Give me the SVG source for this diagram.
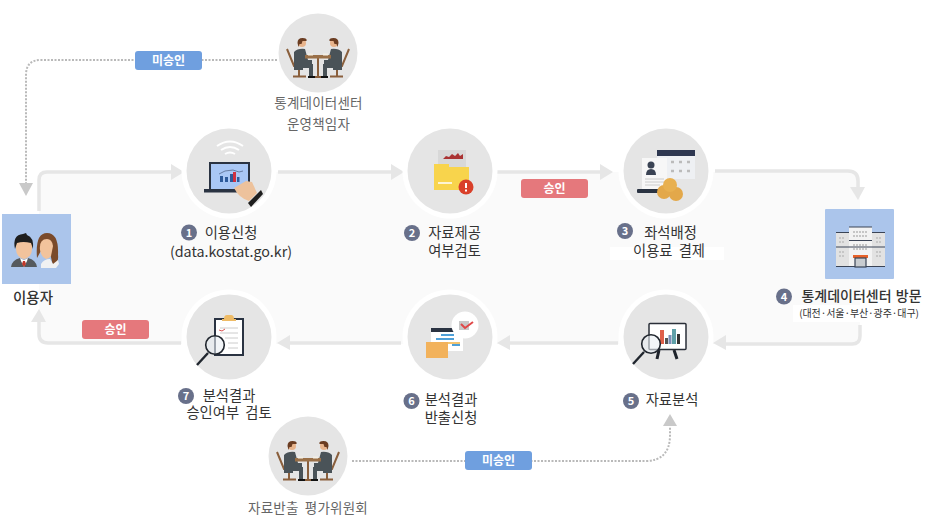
<svg xmlns="http://www.w3.org/2000/svg" width="937" height="532" viewBox="0 0 937 532">
<style>
text{font-family:"Noto Sans CJK KR","Noto Sans",sans-serif;fill:#333;font-size:14px;text-anchor:middle}
.g{fill:#666;font-size:13.500px;letter-spacing:.2px}
.b{font-size:12px;fill:#fff;font-weight:700}
.n{font-size:11px;fill:#fff;font-weight:700}
.flow{fill:none;stroke:#e6e6e6;stroke-width:3.500}
.dot{fill:none;stroke:#b9b9b9;stroke-width:2;stroke-dasharray:2 1.500}
.ah{fill:#e6e6e6}.ad{fill:#c9c9c9}
.c{fill:#e5e5e5}
.nb{fill:#68708a}
.suit{fill:#4a5358}
</style>
<defs>
<g id="meet">
<circle class="c" r="39.500"/>
<path d="M-31-4l7 17h10v0M31-4l-7 17h-10M-19 13v10M19 13v10M-25 23.500h13M25 23.500h-13M0 4v19M-6 24h12" fill="none" stroke="#8a5f3c" stroke-width="2"/>
<path d="M-24-1q4-4 11-3l3 11h4v4h-9v6h-9z" class="suit"/>
<path d="M24-1q-4-4-11-3l-3 11h-4v4h9v6h9z" class="suit"/>
<path d="M-17 11h12v13h-4V15h-8zM17 11H5v13h4V15h8z" class="suit"/>
<path d="M-10 23h7v2h-7zM3 23h7v2H3z" fill="#111"/>
<rect x="-13" y="2" width="26" height="3.500" fill="#9a7048"/>
<rect x="-10" y="0.500" width="5" height="2" fill="#f3efe6"/><rect x="5" y="0.500" width="5" height="2" fill="#f3efe6"/>
<circle cx="-16" cy="-10" r="4" fill="#e8b48c"/><circle cx="16" cy="-10" r="4" fill="#e8b48c"/>
<path d="M-20.500-10q0-5 5-5t4 3h-4l-1 3h-2l-1 3zM20.500-10q0-5-5-5t-4 3h4l1 3h2l1 3z" fill="#6b3d22"/>
</g>
<g id="hole"><circle r="47.500" fill="#fff"/><circle r="42.500" class="c"/></g>
<g id="lens"><path d="M-7 8l-11 12" stroke="#20262e" stroke-width="2.400"/><circle r="9.300" fill="#e9eef3" fill-opacity=".6" stroke="#20262e" stroke-width="1.600"/></g>
</defs>
<rect x="39" y="172" width="821" height="172" rx="8" fill="#fafafa"/>
<g id="connectors">
<path class="flow" d="M39 211V180q0-8 8-8H172"/>
<path class="ah" d="M184 172l-13-8v16z"/>
<path class="flow" d="M278 172H394"/><path class="ah" d="M404 172l-13-8v16z"/>
<path class="flow" d="M497 172H605"/><path class="ah" d="M613 172l-13-8v16z"/>
<path class="flow" d="M715 171H848q10 0 10 10v10"/><path class="ah" d="M858 200l-8-13h15z"/>
<path class="flow" d="M860 325v11q0 8-8 8H722"/><path class="ah" d="M713 343l13-8v15z"/>
<path class="flow" d="M618 343H508"/><path class="ah" d="M497 343l13-8v15z"/>
<path class="flow" d="M401 343H287"/><path class="ah" d="M277 343l13-8v15z"/>
<path class="flow" d="M181 343H48q-9 0-9-9V321"/><path class="ah" d="M39 309l-8 13h15z"/>
<path class="dot" d="M277 60H41q-15 0-15 15V184"/><path class="ad" d="M26 196l-7-13h14z"/>
<path class="dot" d="M352 461H645q25 0 25-26V427"/><path class="ad" d="M670 414l-7 12h14z"/>
</g>
<g id="tag-unapproved-1"><rect x="135" y="51" width="67" height="19" rx="3" fill="#6f9fdf"/><text class="b" x="168.500" y="65">미승인</text></g>
<g id="tag-approved-1"><rect x="521" y="179" width="67" height="19" rx="3" fill="#e5787c"/><text class="b" x="554.500" y="193">승인</text></g>
<g id="tag-approved-2"><rect x="82" y="320" width="67" height="19" rx="3" fill="#e5787c"/><text class="b" x="115.500" y="334">승인</text></g>
<g id="tag-unapproved-2"><rect x="465" y="451" width="67" height="19" rx="3" fill="#6f9fdf"/><text class="b" x="498.500" y="465">미승인</text></g>

<g id="node-manager"><use href="#meet" x="318" y="53"/>
<text class="g" x="318.500" y="108">통계데이터센터<tspan x="318.500" dy="21">운영책임자</tspan></text></g>

<g id="node-user"><rect x="2" y="214" width="69" height="70" fill="#abc5eb"/>
<path d="M37 258q-2-25 10-25t11 22q1 8-5 11l-3-13q-3-6-8-4z" fill="#7a4a2a"/>
<path d="M40 250q-1-11 7-11 5 0 6 7l-2 10q-2 3-5 3-5-2-6-9z" fill="#f2c39c"/>
<path d="M41 264q3-5 9-5l3 5 5-4 1 4-3 4H41z" fill="#f0f1f2"/>
<path d="M16 243q0-3 8-3t8 3v6q0 8-8 10-8-2-8-10z" fill="#f2c39c"/>
<path d="M15 249q-3-14 8-15l3-1 1 2q7 2 6 14l-2-6q-8-2-14 0z" fill="#1e1e1e"/>
<path d="M11 267q1-7 9-9l4 2 4-2q8 2 9 9z" fill="#555a5e"/><path d="M20 258l4 2 4-2-1 3-3 6-3-6z" fill="#fff"/><path d="M23 261h2l1 3-2 3-2-3z" fill="#c0392b"/>
<text x="33" y="303" style="font-size:14.500px;font-weight:500">이용자</text></g>

<g id="node-1"><use href="#hole" x="229" y="171"/>
<path d="M217 146q13-9 26 0M221 150q9-6 18 0M225 154q5-3 10 0" fill="none" stroke="#fff" stroke-width="2"/>
<rect x="210" y="163" width="39" height="27" fill="#a9c7f5" stroke="#2a3342" stroke-width="2"/>
<rect x="204" y="189" width="42" height="3.500" fill="#2a3342"/>
<path d="M220 176h3v6h-3zM225 177h3v5h-3zM230 174h3v8h-3z" fill="#2d5a9a"/><path d="M233 172h3v10h-3z" fill="#d03040"/><path d="M237 177h2.500v5h-2.500z" fill="#2d5a9a"/>
<path d="M219 174l6-3 8-1 6 2 4-1" fill="none" stroke="#3a4a6a" stroke-width=".6"/>
<path d="M234 188l12-7 6 1 5 11-8 8q-10-3-15-13z" fill="#edc29c"/>
<path d="M248 203l13-13 2 4-12 13z" fill="#1e1e1e"/>
<circle class="nb" cx="189" cy="232.500" r="8"/><text class="n" x="189" y="236.500">1</text>
<text x="231" y="238" style="font-size:14.300px">이용신청<tspan x="231" dy="19">(data.kostat.go.kr)</tspan></text></g>

<g id="node-2"><use href="#hole" x="450" y="171"/>
<rect x="438" y="150" width="28" height="20" fill="#d8d8d8"/><path d="M443 159h20v-5l-3 2-2-3-3 3-3-2-3 3-3-1z" fill="#a33"/>
<path d="M434 164h15v3h20v23h-35z" fill="#f8d44c"/><path d="M438 183h14" stroke="#fff" stroke-width="1.500"/>
<circle cx="466" cy="187" r="7.500" fill="#d9402a"/><path d="M466 183v5M466 189.500v2" stroke="#fff" stroke-width="2"/>
<circle class="nb" cx="412" cy="233" r="8"/><text class="n" x="412" y="237">2</text>
<text x="454.500" y="238" style="font-size:14.300px">자료제공<tspan x="454.500" dy="18">여부검토</tspan></text></g>

<g id="node-3"><use href="#hole" x="666" y="171"/>
<rect x="657" y="150" width="38" height="29" fill="#eef0f3"/><rect x="657" y="150" width="38" height="6" fill="#2e3750"/>
<path d="M661 160l2 3 3-3" stroke="#d33" fill="none"/><path d="M671 162h3M679 162h3M687 162h3M663 171h3M671 171h3M679 171h3M687 171h3" stroke="#bbb" stroke-width="2.500"/>
<rect x="642" y="158" width="25" height="31" fill="#f7f7f7"/>
<circle cx="651" cy="165" r="3.500" fill="#3a4354"/><path d="M646 175q0-6 5-6t5 6z" fill="#3a4354"/><path d="M645 179h19M645 182h19M645 185h15" stroke="#ccc"/>
<rect x="637" y="189" width="30" height="4" rx="1" fill="#2a3342"/>
<circle cx="664" cy="192" r="7" fill="#e3a84a"/><circle cx="676" cy="194" r="7" fill="#e3a84a"/><circle cx="670" cy="185" r="7" fill="#e8b050"/>
<rect x="610" y="247" width="114" height="13" fill="#fff"/>
<circle class="nb" cx="625" cy="231" r="8"/><text class="n" x="625" y="235">3</text>
<text x="670.500" y="238" style="font-size:14.300px">좌석배정<tspan x="669" dy="18" word-spacing="3">이용료 결제</tspan></text></g>

<g id="node-4"><rect x="825" y="209" width="69" height="70" rx="1" fill="#abc5eb"/>
<rect x="836" y="233" width="49" height="33" fill="#e2e2e2"/><rect x="849" y="227" width="23" height="39" fill="#f3f3f3"/>
<path d="M849 227h23M836 232.500h13M872 232.500h13M836 247h49M849 240.500h23M836 266.500h49" stroke="#3a4456" stroke-width="1.200"/>
<path d="M853 232h15M853 236h15M853 245h15M853 249h15M839 238h6M839 242h6M876 238h6M876 242h6M839 252h6M839 256h6M876 252h6M876 256h6" stroke="#c6c6c6" stroke-width="2" stroke-dasharray="2 1"/>
<rect x="853" y="255" width="15" height="3" fill="#e8622a"/><rect x="855" y="258" width="11" height="9" fill="#c8ccd0" stroke="#3a4456" stroke-width="1.200"/>
<rect x="793" y="305" width="132" height="17" fill="#fff"/>
<circle class="nb" cx="784" cy="296.500" r="8"/><text class="n" x="784" y="300.500">4</text>
<text x="861.500" y="301" style="font-size:14px;font-weight:500" word-spacing="1">통계데이터센터 방문</text><text x="859" y="317" style="font-size:10px;letter-spacing:-.1px">(대전·서울·부산·광주·대구)</text></g>

<g id="node-5"><use href="#hole" x="666" y="337"/>
<rect x="649" y="323.500" width="37" height="26" fill="#fff" stroke="#2a2f38" stroke-width="1.500" rx="1"/>
<rect x="660" y="330" width="4" height="14" fill="#e0604a"/><rect x="665" y="338" width="3" height="6" fill="#555"/><rect x="668.500" y="335" width="3" height="9" fill="#7b8fb8"/><rect x="672" y="329" width="4" height="15" fill="#5fa0a8"/><rect x="677" y="334" width="3" height="10" fill="#333"/>
<path d="M659 350l-2 9M674 350l3 9" stroke="#1e232b" stroke-width="3"/>
<use href="#lens" x="651" y="344"/>
<circle class="nb" cx="631" cy="401" r="8"/><text class="n" x="631" y="405">5</text>
<text x="672" y="405" style="font-size:14.300px">자료분석</text></g>

<g id="node-6"><use href="#hole" x="450" y="337"/>
<rect x="431" y="328" width="32" height="23" fill="#fff"/><rect x="431" y="328" width="32" height="4" fill="#2a3342"/>
<path d="M441 335h13M436 339h18M452 345h8" stroke="#4fa0d8" stroke-width="2"/><path d="M436 343h24" stroke="#f0b040" stroke-width="1.500"/>
<rect x="426" y="342" width="22" height="16" fill="#f2b25c"/>
<circle cx="465" cy="325" r="13.500" fill="#fff"/><rect x="459" y="321" width="10" height="9" fill="#c8c8c8"/><path d="M461 324l4 4 8-6" stroke="#e04848" stroke-width="2" fill="none"/>
<circle class="nb" cx="411.500" cy="401" r="8"/><text class="n" x="411.500" y="405">6</text>
<text x="451" y="405" style="font-size:14.300px">분석결과<tspan x="451" dy="18">반출신청</tspan></text></g>

<g id="node-7"><use href="#hole" x="229" y="337"/>
<rect x="215" y="319" width="28" height="36" fill="#fff" stroke="#2a3342" stroke-width="2"/>
<path d="M224 319q0-4 3-4h4q3 0 3 4h2v2h-14v-2z" fill="#eebb66"/>
<path d="M220 328h18M220 333h18M225 338h13M228 343h10M228 348h10" stroke="#ccc"/><path d="M219 330l3 1 3-2" stroke="#d55" fill="none"/>
<use href="#lens" x="215" y="345"/>
<circle class="nb" cx="186" cy="396" r="8"/><text class="n" x="186" y="400">7</text>
<text x="229" y="401" style="font-size:14.300px">분석결과<tspan x="229" dy="17" word-spacing="3">승인여부 검토</tspan></text></g>

<g id="node-committee"><use href="#meet" x="308" y="456"/>
<text class="g" x="308" y="513" word-spacing="3">자료반출 평가위원회</text></g>
</svg>
